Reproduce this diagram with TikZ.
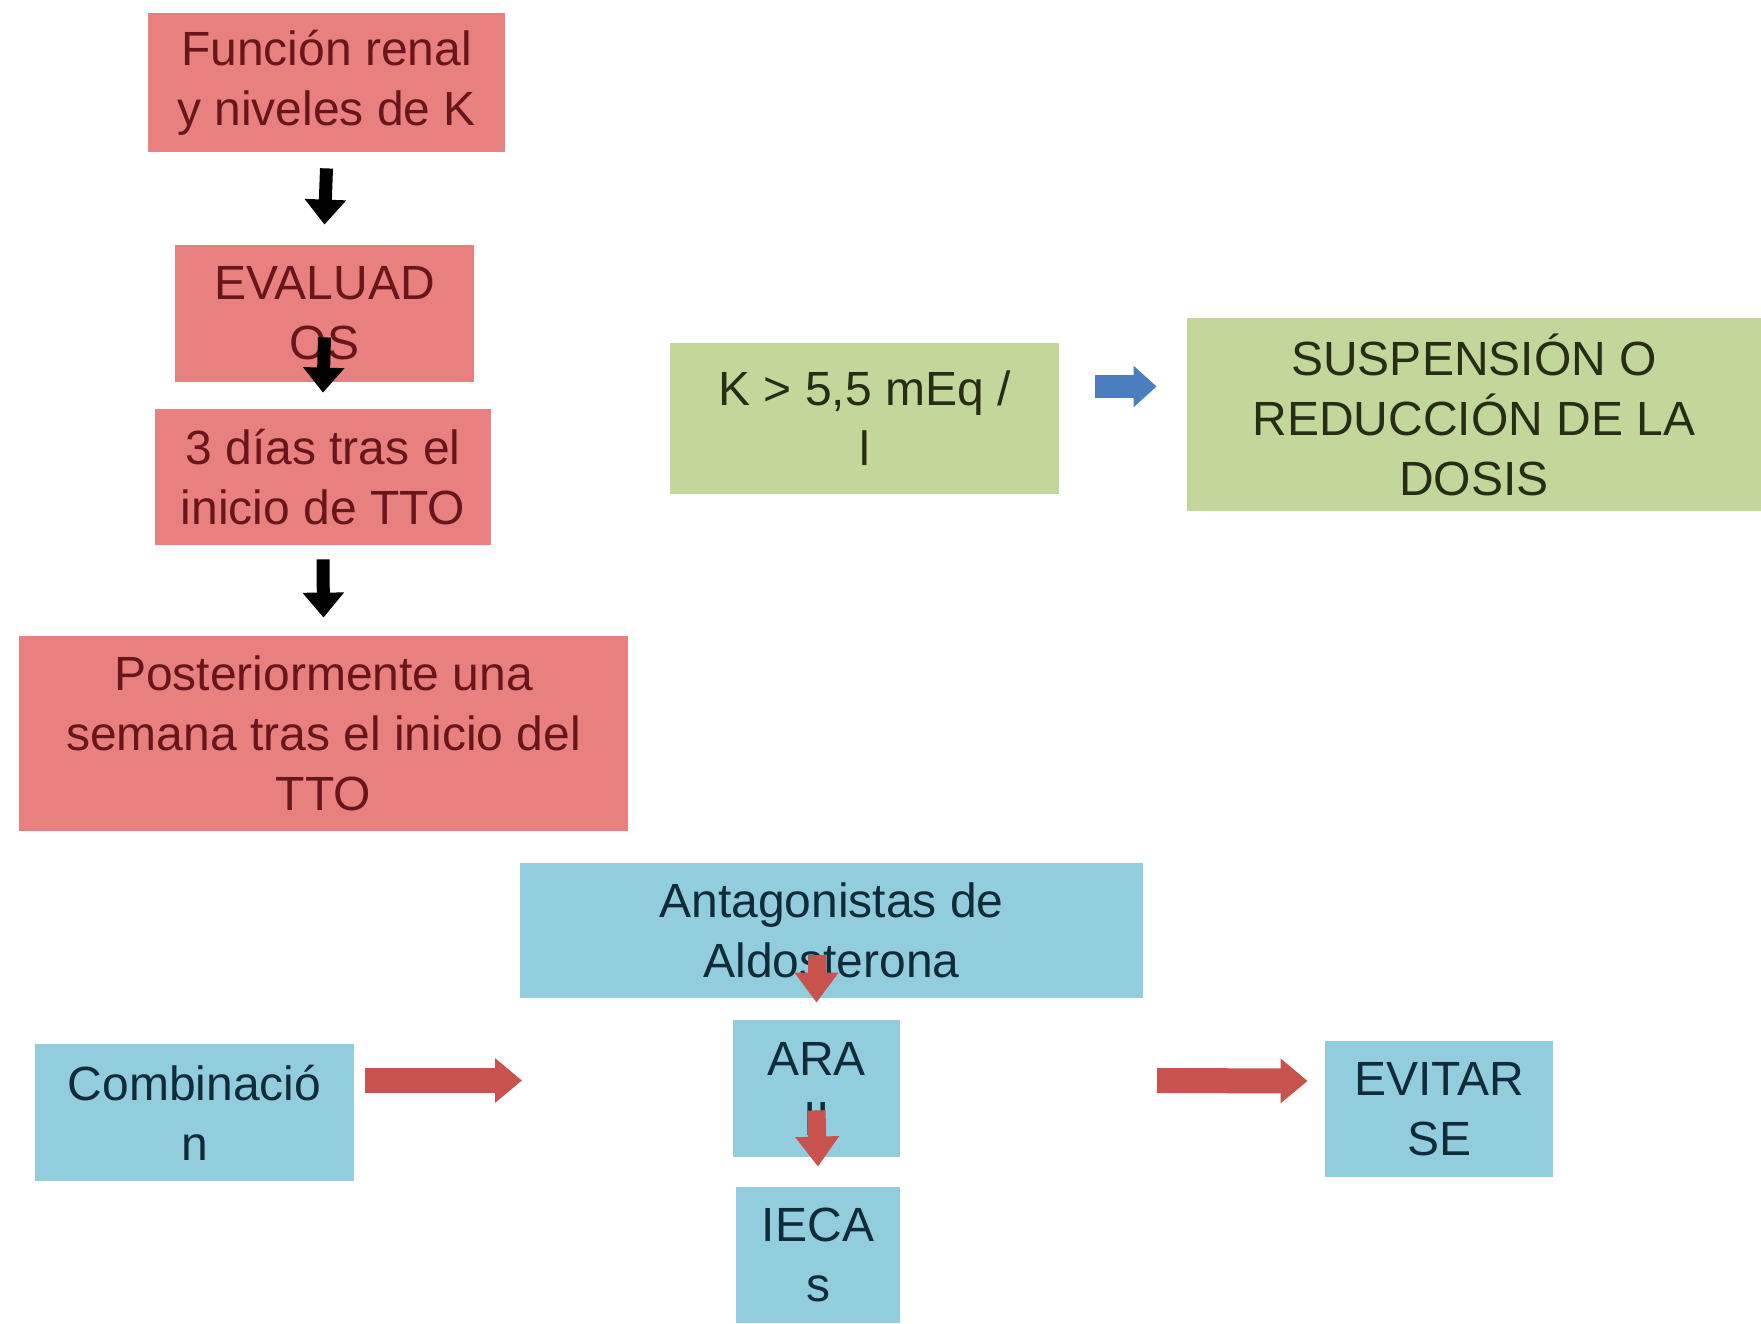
\documentclass[tikz,border=0pt]{standalone}
\usepackage{fontspec}
\setmainfont{Liberation Sans}
\usetikzlibrary{arrows.meta, positioning, calc}
\definecolor{rojo}{RGB}{232,128,128}
\definecolor{rojotxt}{RGB}{105,22,26}
\definecolor{verde}{RGB}{196,215,155}
\definecolor{verdetxt}{RGB}{38,46,22}
\definecolor{azul}{RGB}{146,205,221}
\definecolor{azultxt}{RGB}{16,44,58}
\definecolor{flecharoja}{RGB}{200,82,78}
\definecolor{flechaazul}{RGB}{74,126,190}
\tikzset{
  caja/.style={inner sep=0pt, align=center, font=\fontsize{24}{30}\selectfont},
  cajaroja/.style={caja, fill=rojo, text=rojotxt},
  cajaverde/.style={caja, fill=verde, text=verdetxt},
  cajaazul/.style={caja, fill=azul, text=azultxt},
  flechanegra/.style={line width=6.5pt, black, -{Triangle[width=20pt, length=12.5pt]}},
  flechaazulh/.style={line width=11.5pt, flechaazul, -{Triangle[width=20pt, length=11.5pt]}},
  flecharojah/.style={line width=12.5pt, flecharoja, -{Triangle[width=21.5pt, length=13.5pt]}},
  flecharojav/.style={line width=9pt, flecharoja, -{Triangle[width=21pt, length=15pt]}}
}

\begin{document}
\begin{tikzpicture}[x=0.5pt, y=-0.5pt]
  \useasboundingbox[fill=white] (0,0) rectangle (1761,1323);

  % seguimiento
  \node[cajaroja, minimum width=178.5pt, minimum height=69.5pt] (funcion) at (326.5,82.5)
    {Función renal\\y niveles de K};
  \node[cajaroja, minimum width=149.5pt, minimum height=68.5pt] (evaluados) at (324.5,313.5)
    {EVALUAD\\OS};
  \node[cajaroja, minimum width=168pt, minimum height=68pt] (tresdias) at (323,477)
    {3 días tras el\\inicio de TTO};
  \node[cajaroja, minimum width=304.5pt, minimum height=97.5pt] (semana) at (323.5,733.5)
    {Posteriormente una\\semana tras el inicio del\\TTO};

  \draw[flechanegra] ([yshift=-8pt]funcion.south) -- ([yshift=10pt]evaluados.north);
  \draw[flechanegra] ([yshift=22.5pt]evaluados.south) -- ([yshift=8pt]tresdias.north);
  \draw[flechanegra] ([yshift=-7pt]tresdias.south) -- ([yshift=9pt]semana.north);

  % potasio
  \node[cajaverde, minimum width=194.5pt, minimum height=75.5pt] (potasio) at (864.5,418.5)
    {K > 5,5 mEq /\\l};
  \node[cajaverde, minimum width=287pt, minimum height=96.5pt] (suspension) at (1474,414.5)
    {SUSPENSIÓN O\\REDUCCIÓN DE LA\\DOSIS};
  \draw[flechaazulh] ([xshift=18pt, yshift=16pt]potasio.east) -- ([xshift=-15pt, yshift=14pt]suspension.west);

  % combinacion
  \node[cajaazul, minimum width=311.5pt, minimum height=67.5pt] (antagonistas) at (831.5,930.5)
    {Antagonistas de\\Aldosterona};
  \node[cajaazul, minimum width=159.5pt, minimum height=68.5pt] (combinacion) at (194.5,1112.5)
    {Combinació\\n};
  \node[cajaazul, minimum width=83.5pt, minimum height=68.5pt] (ara) at (816.5,1088.5)
    {ARA\\II};
  \node[cajaazul, minimum width=82pt, minimum height=68pt] (iecas) at (818,1255)
    {IECA\\s};
  \node[cajaazul, minimum width=114pt, minimum height=68pt] (evitar) at (1439,1109)
    {EVITAR\\SE};
  \coordinate (grupoO) at (522,1080.5);
  \coordinate (grupoE) at (1157,1080.5);

  \draw[flecharojav] ($(antagonistas.south -| ara.north)+(0,21.5pt)$) -- ([yshift=8.5pt]ara.north);
  \draw[flecharojav] ([yshift=23.5pt]ara.south) -- ([yshift=10pt]iecas.north);
  \draw[flecharojah] ([xshift=5.5pt, yshift=16pt]combinacion.east) -- (grupoO);
  \draw[flecharojah] (grupoE) -- ([xshift=-8.5pt, yshift=14pt]evitar.west);
\end{tikzpicture}
\end{document}
